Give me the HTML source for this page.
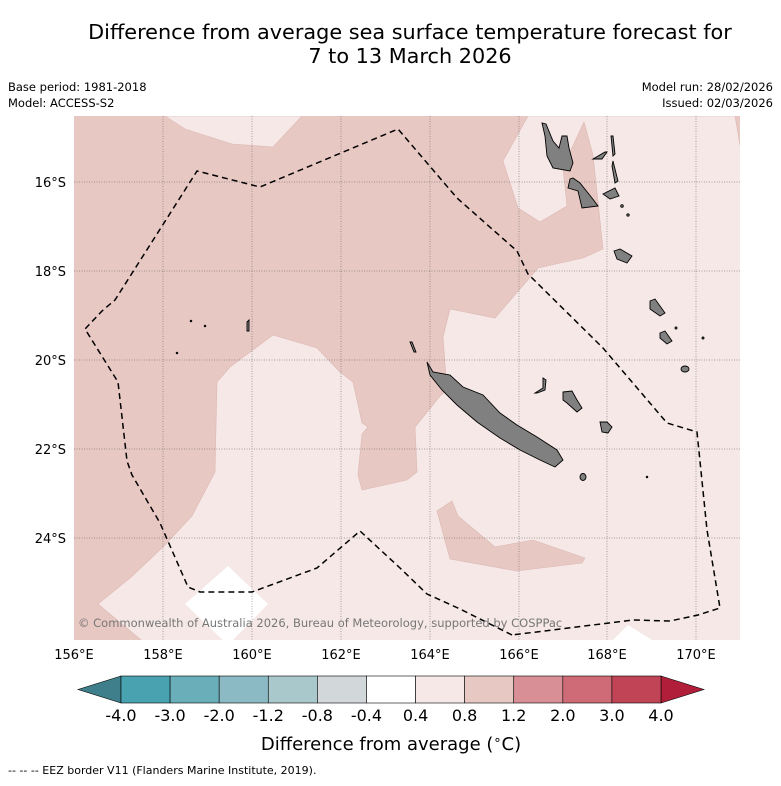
<!DOCTYPE html>
<html><head><meta charset="utf-8"><style>
html,body{margin:0;padding:0;background:#fff;}
body{width:781px;height:781px;overflow:hidden;font-family:"Liberation Sans","DejaVu Sans",sans-serif;}
</style></head><body>
<svg id="chart" width="781" height="781" viewBox="0 0 781 781" xmlns="http://www.w3.org/2000/svg" font-family="'DejaVu Sans','Liberation Sans',sans-serif">
<text x="410" y="39" font-size="20.8" text-anchor="middle" fill="#000">Difference from average sea surface temperature forecast for</text>
<text x="410" y="63" font-size="20.8" text-anchor="middle" fill="#000">7 to 13 March 2026</text>
<text x="8" y="91" font-size="11.5">Base period: 1981-2018</text>
<text x="8" y="107" font-size="11.5">Model: ACCESS-S2</text>
<text x="773" y="91" font-size="11.5" text-anchor="end">Model run: 28/02/2026</text>
<text x="773" y="107" font-size="11.5" text-anchor="end">Issued: 02/03/2026</text>

<defs><clipPath id="mapclip"><rect x="74" y="116" width="666" height="524"/></clipPath></defs>
<g clip-path="url(#mapclip)">
<rect x="74" y="116" width="666" height="524" fill="#e8c8c3"/>
<polygon fill="#f5e8e6" stroke="#dcb8b3" stroke-width="0.6" points="165,116 185,129 232,144 273,147 302,116"/>
<polygon fill="#f5e8e6" stroke="#dcb8b3" stroke-width="0.6" points="528,116 503,161 518,208 540,222 567,206 563,167 584,122 593,155 603,249 583,258 538,268 495,318 450,309 443,337 447,390 440,396 415,427 417,472 407,480 362,490 358,475 362,434 368,427 362,423 353,382 340,372 317,348 273,335 230,367 217,382 215,472 192,516 163,547 130,578 98,604 147,645 745,645 745,174 735,116"/>
<polygon fill="#e8c8c3" stroke="#dcb8b3" stroke-width="0.6" points="437,511 452,501 458,516 495,547 533,540 585,558 582,563 517,571 450,559"/>
<polygon fill="#ffffff" points="185,604 228,566 268,604 228,645"/>
<polygon fill="#ffffff" points="608,645 628,625 660,645"/>
<g stroke="#555" stroke-width="0.5" stroke-dasharray="1,1.5">
<line x1="163" y1="116" x2="163" y2="640"/><line x1="252" y1="116" x2="252" y2="640"/><line x1="341" y1="116" x2="341" y2="640"/><line x1="430" y1="116" x2="430" y2="640"/><line x1="519" y1="116" x2="519" y2="640"/><line x1="607" y1="116" x2="607" y2="640"/><line x1="696" y1="116" x2="696" y2="640"/>
<line x1="74" y1="182" x2="740" y2="182"/><line x1="74" y1="271" x2="740" y2="271"/><line x1="74" y1="360" x2="740" y2="360"/><line x1="74" y1="449" x2="740" y2="449"/><line x1="74" y1="538" x2="740" y2="538"/>
</g>
<polyline fill="none" stroke="#000" stroke-width="1.5" stroke-dasharray="6,4" points="512,635 460,609 427,594 400,568 360,531 317,568 252,592 200,592 188,587 160,523 132,475 127,461 118,382 85,329 102,311 115,300 197,171 260,187 398,129 457,198 517,251 528,274 603,348 667,423 697,432 707,530 720,608 698,615 670,621 633,620 512,635"/>
<g fill="#808080" stroke="#000" stroke-width="0.9">
<polygon points="427,362 433,372 450,375 463,387 483,395 500,413 517,425 537,437 557,450 563,460 555,467 540,460 520,450 500,438 477,422 457,405 442,390 430,375"/>
<polygon points="535,393 543,388 543,378 546,380 545,390 537,393"/>
<polygon points="563,392 572,391 577,400 582,408 577,412 567,403 563,400"/>
<polygon points="600,422 607,422 612,427 608,433 602,432"/>
<ellipse cx="583" cy="477" rx="3" ry="3.5"/>
<polygon points="410,342 412,342 416,352 414,352"/>
<polygon points="542,123 545,136 547,156 553,168 570,171 573,163 569,148 567,136 562,136 559,148 553,141 546,124"/>
<polygon points="570,179 568,188 578,191 582,208 598,206 592,198 580,183 573,178"/>
<polygon points="593,159 605,152 607,152 602,159"/>
<polygon points="611,136 613,136 615,154 613,156"/>
<polygon points="613,161 618,181 615,183 612,166"/>
<polygon points="603,194 615,188 619,196 610,199"/>
<polygon points="614,251 620,249 632,256 627,263 617,259"/>
<polygon points="650,301 655,299 665,313 660,316 650,309"/>
<polygon points="660,333 665,331 672,341 667,344 660,338"/>
<ellipse cx="685" cy="369" rx="4" ry="3"/>
<polygon points="247,322 249,320 249,331 247,331"/>
<circle cx="622" cy="206" r="1.3"/><circle cx="628" cy="215" r="1.2"/><circle cx="676" cy="328" r="1"/><circle cx="703" cy="338" r="1"/><circle cx="647" cy="477" r="0.8"/><circle cx="191" cy="321" r="0.8"/><circle cx="205" cy="326" r="0.8"/><circle cx="177" cy="353" r="0.8"/>
</g>
<text x="78" y="627" font-size="11.5" fill="#777">© Commonwealth of Australia 2026, Bureau of Meteorology, supported by COSPPac</text>
</g>
<g font-size="13" fill="#000">
<g text-anchor="end">
<text x="66" y="187">16°S</text><text x="66" y="276">18°S</text><text x="66" y="365">20°S</text><text x="66" y="454">22°S</text><text x="66" y="543">24°S</text>
</g>
<g text-anchor="middle">
<text x="74" y="659">156°E</text><text x="163" y="659">158°E</text><text x="252" y="659">160°E</text><text x="341" y="659">162°E</text><text x="430" y="659">164°E</text><text x="519" y="659">166°E</text><text x="607" y="659">168°E</text><text x="696" y="659">170°E</text>
</g>
</g>
<g id="colorbar"></g>
<text x="391" y="750" font-size="18" text-anchor="middle">Difference from average (<tspan font-size="13" dy="-6">∘</tspan><tspan dy="6">C)</tspan></text>
<text x="8" y="774" font-size="11">--  --  -- EEZ border V11 (Flanders Marine Institute, 2019).</text>
</svg>
<script>
const cbBounds = [-4.0, -3.0, -2.0, -1.2, -0.8, -0.4, 0.4, 0.8, 1.2, 2.0, 3.0, 4.0];
const cbLabels = ["-4.0","-3.0","-2.0","-1.2","-0.8","-0.4","0.4","0.8","1.2","2.0","3.0","4.0"];
const cbColors = ["#48a2b0","#6aaeb9","#8cbac4","#a9c8cc","#d2d7da","#ffffff","#f5e8e6","#e8c8c3","#d98f96","#cf6b76","#c04455"];
const cbUnder = "#3e7f8b";
const cbOver = "#b01e3a";
(function(){
  const NS="http://www.w3.org/2000/svg";
  const g=document.getElementById('colorbar');
  const x0=121,x1=661,y0=676,y1=703,ym=(y0+y1)/2;
  const n=cbBounds.length-1;
  const ix=i=>x0+(x1-x0)*i/n;
  const under=document.createElementNS(NS,'polygon');
  under.setAttribute('points',`${x0},${y0} ${x0},${y1} 78,${ym}`);
  under.setAttribute('fill',cbUnder);under.setAttribute('stroke','#000');under.setAttribute('stroke-width','0.6');
  
  
  g.appendChild(under);
  const over=document.createElementNS(NS,'polygon');
  over.setAttribute('points',`${x1},${y0} ${x1},${y1} 704,${ym}`);
  over.setAttribute('fill',cbOver);over.setAttribute('stroke','#000');over.setAttribute('stroke-width','0.6');
  
  
  g.appendChild(over);
  for(let i=0;i<n;i++){
    const r=document.createElementNS(NS,'rect');
    r.setAttribute('x',ix(i));r.setAttribute('y',y0);r.setAttribute('width',ix(i+1)-ix(i));r.setAttribute('height',y1-y0);
    r.setAttribute('fill',cbColors[i]);r.setAttribute('stroke','#000');r.setAttribute('stroke-width','0.6');
    
    
    g.appendChild(r);
  }
  for(let i=0;i<=n;i++){
    const t=document.createElementNS(NS,'text');
    t.setAttribute('x',ix(i));t.setAttribute('y',721);t.setAttribute('font-size','16');t.setAttribute('text-anchor','middle');
    t.textContent=cbLabels[i];
    
    
    g.appendChild(t);
  }
})();
</script>
</body></html>
